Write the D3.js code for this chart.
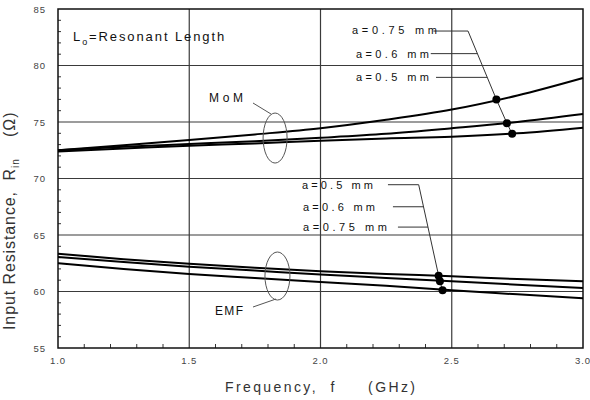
<!DOCTYPE html>
<html><head><meta charset="utf-8">
<script src="https://cdn.jsdelivr.net/npm/d3@7"></script>
<style>body{margin:0;background:#fff} text{font-family:"Liberation Sans",Arial,sans-serif}</style>
</head><body><svg id="c" width="590" height="400"></svg>
<script>
// ---- data ----
const freq = [1.0, 1.25, 1.5, 1.75, 2.0, 2.25, 2.5, 2.75, 3.0];
const momA050 = [72.4, 72.65, 72.9, 73.1, 73.35, 73.55, 73.7, 74.0, 74.5];
const momA060 = [72.5, 72.8, 73.05, 73.3, 73.6, 73.95, 74.45, 75.0, 75.7];
const momA075 = [72.5, 72.95, 73.4, 73.9, 74.45, 75.2, 76.1, 77.35, 78.9];
const emfA050 = [63.35, 62.85, 62.45, 62.1, 61.8, 61.55, 61.35, 61.1, 60.9];
const emfA060 = [63.05, 62.6, 62.2, 61.85, 61.5, 61.2, 60.9, 60.6, 60.3];
const emfA075 = [62.5, 62.0, 61.55, 61.2, 60.85, 60.5, 60.1, 59.75, 59.4];
// resonant-length points (frequency, resistance)
const momDotF = [2.67, 2.71, 2.73];
const momDotR = [77.0, 74.9, 73.95];
const emfDotF = [2.45, 2.455, 2.465];
const emfDotR = [61.4, 60.9, 60.1];
const momLabels = ["a=0.75 mm", "a=0.6 mm", "a=0.5 mm"];
const emfLabels = ["a=0.5 mm", "a=0.6 mm", "a=0.75 mm"];
const xTicks = [1.0, 1.5, 2.0, 2.5, 3.0];
const xTickLabels = ["1.0", "1.5", "2.0", "2.5", "3.0"];
const yTicks = [55, 60, 65, 70, 75, 80, 85];
const yTickLabels = ["55", "60", "65", "70", "75", "80", "85"];

// ---- layout ----
const W = 590, H = 400;
const m = {left: 58, right: 7, top: 9, bottom: 52};
const svg = d3.select("#c");
const x = d3.scaleLinear().domain([1, 3]).range([m.left, W - m.right]);
const y = d3.scaleLinear().domain([55, 85]).range([H - m.bottom, m.top]);
const x0 = x.range()[0], x1 = x.range()[1], y0 = y.range()[0], y1 = y.range()[1];

// grid
const g = svg.append("g");
g.selectAll(".vg").data(xTicks.slice(1, -1)).join("line")
  .attr("x1", d => x(d)).attr("x2", d => x(d)).attr("y1", y1).attr("y2", y0)
  .attr("stroke", "#3a3a3a").attr("stroke-width", 1.2);
g.selectAll(".hg").data(yTicks.slice(1, -1)).join("line")
  .attr("y1", d => y(d)).attr("y2", d => y(d)).attr("x1", x0).attr("x2", x1)
  .attr("stroke", "#3a3a3a").attr("stroke-width", 1.2);

// minor ticks
const xMinor = d3.range(1.1, 3.0, 0.1).filter(v => Math.abs(v * 2 - Math.round(v * 2)) > 0.01);
g.selectAll(".xm").data(xMinor).join("line")
  .attr("x1", d => x(d)).attr("x2", d => x(d)).attr("y1", y0).attr("y2", y0 - 4)
  .attr("stroke", "#333").attr("stroke-width", 1);
const yMinor = d3.range(56, 85, 1).filter(v => v % 5 !== 0);
g.selectAll(".ym").data(yMinor).join("line")
  .attr("y1", d => y(d)).attr("y2", d => y(d)).attr("x1", x0).attr("x2", x0 + 3)
  .attr("stroke", "#333").attr("stroke-width", 1);

// frame
svg.append("rect").attr("x", x0).attr("y", y1).attr("width", x1 - x0).attr("height", y0 - y1)
  .attr("fill", "none").attr("stroke", "#111").attr("stroke-width", 1.5);

// tick labels
svg.selectAll(".xl").data(xTicks).join("text")
  .attr("x", d => x(d)).attr("y", y0 + 16).attr("text-anchor", "middle")
  .attr("font-size", 9.5).attr("fill", "#444").attr("letter-spacing", 1)
  .text((d, i) => xTickLabels[i]);
svg.selectAll(".yl").data(yTicks).join("text")
  .attr("x", x0 - 12).attr("y", d => y(d) + 3.5).attr("text-anchor", "end")
  .attr("font-size", 9.5).attr("fill", "#444").attr("letter-spacing", 1)
  .text((d, i) => yTickLabels[i]);

// curves
const line = d3.line().x(d => x(d[0])).y(d => y(d[1])).curve(d3.curveMonotoneX);
[momA050, momA060, momA075, emfA050, emfA060, emfA075].forEach(s => {
  svg.append("path").datum(freq.map((f, i) => [f, s[i]]))
    .attr("d", line).attr("fill", "none").attr("stroke", "#000").attr("stroke-width", 2);
});

// leader helpers
const ann = svg.append("g").attr("fill", "none").attr("stroke", "#333").attr("stroke-width", 1);
const plain = d3.line();

// MoM leaders: corner then through dots
const momCorner = [x(2.562), y(83.05)];
const momPts = momDotF.map((f, i) => [x(f), y(momDotR[i])]);
ann.append("path").attr("d", plain([[x(2.43), momCorner[1]], momCorner, ...momPts]));
const momLabelR = [83.1, 81.05, 78.95];
const momLeadStart = [2.43, 2.42, 2.44];
momLabelR.forEach((r, i) => {
  if (i === 0) return;
  const py = y(r);
  const t = (py - momCorner[1]) / (momPts[0][1] - momCorner[1]);
  const px = momCorner[0] + t * (momPts[0][0] - momCorner[0]);
  ann.append("line").attr("x1", x(momLeadStart[i])).attr("x2", px).attr("y1", py).attr("y2", py);
});
const momTextX = [352, 356, 356], momTextW = [85, 73, 73];
svg.selectAll(".momt").data(momLabels).join("text")
  .attr("x", (d, i) => momTextX[i]).attr("y", (d, i) => y(momLabelR[i]) + 4)
  .attr("font-size", 11).attr("fill", "#111")
  .attr("textLength", (d, i) => momTextW[i]).attr("lengthAdjust", "spacing").text(d => d);

// EMF leaders
const emfLabelR = [69.45, 67.5, 65.7];
const emfCorner = [x(2.374), y(emfLabelR[0])];
const emfPts = emfDotF.map((f, i) => [x(f), y(emfDotR[i])]);
ann.append("path").attr("d", plain([[x(2.257), emfCorner[1]], emfCorner, ...emfPts]));
const emfLeadStart = [2.257, 2.276, 2.295];
emfLabelR.forEach((r, i) => {
  if (i === 0) return;
  const py = y(r);
  const t = (py - emfCorner[1]) / (emfPts[0][1] - emfCorner[1]);
  const px = emfCorner[0] + t * (emfPts[0][0] - emfCorner[0]);
  ann.append("line").attr("x1", x(emfLeadStart[i])).attr("x2", px).attr("y1", py).attr("y2", py);
});
const emfTextW = [71, 72, 84];
svg.selectAll(".emft").data(emfLabels).join("text")
  .attr("x", (d, i) => [302, 303, 303][i]).attr("y", (d, i) => y(emfLabelR[i]) + 4)
  .attr("font-size", 11).attr("fill", "#111")
  .attr("textLength", (d, i) => emfTextW[i]).attr("lengthAdjust", "spacing").text(d => d);

// dots
svg.selectAll(".md").data(momDotF.map((f, i) => [f, momDotR[i]]).concat(emfDotF.map((f, i) => [f, emfDotR[i]])))
  .join("circle").attr("cx", d => x(d[0])).attr("cy", d => y(d[1])).attr("r", 4).attr("fill", "#000");

// ellipses and group labels
ann.append("ellipse").attr("cx", x(1.827)).attr("cy", y(73.58)).attr("rx", 12).attr("ry", 25).attr("stroke", "#555");
ann.append("ellipse").attr("cx", x(1.836)).attr("cy", y(61.37)).attr("rx", 12.5).attr("ry", 24).attr("stroke", "#555");
ann.append("line").attr("x1", 253).attr("y1", 103).attr("x2", 271).attr("y2", 114).attr("stroke", "#555");
ann.append("line").attr("x1", 253).attr("y1", 307).attr("x2", 276).attr("y2", 299).attr("stroke", "#555");
svg.append("text").attr("x", 209).attr("y", y(77.2) + 4.5).attr("font-size", 12)
  .attr("textLength", 34).attr("lengthAdjust", "spacing").attr("fill", "#111").text("MoM");
svg.append("text").attr("x", 215).attr("y", y(58.36) + 4.5).attr("font-size", 12)
  .attr("textLength", 28).attr("lengthAdjust", "spacing").attr("fill", "#111").text("EMF");

// L0 note
const note = svg.append("text").attr("x", 73).attr("y", 41).attr("font-size", 13).attr("fill", "#111")
  .attr("letter-spacing", 1.9);
note.append("tspan").text("L");
note.append("tspan").attr("font-size", 9).attr("dy", 4).text("o");
note.append("tspan").attr("dy", -4).text("=Resonant Length");

// axis titles
svg.append("text").attr("x", 225).attr("y", 392).attr("font-size", 14).attr("fill", "#333")
  .attr("textLength", 190).attr("lengthAdjust", "spacing")
  .attr("xml:space", "preserve").text("Frequency,  f     (GHz)");
const yt = svg.append("text").attr("transform", "translate(15,330) rotate(-90)")
  .attr("font-size", 16).attr("fill", "#333").attr("letter-spacing", 0.9).attr("xml:space", "preserve");
yt.append("tspan").text("Input Resistance,  R");
yt.append("tspan").attr("font-size", 10).attr("dy", 4).text("in");
yt.append("tspan").attr("dy", -4).text("    (Ω)");
</script></body></html>
